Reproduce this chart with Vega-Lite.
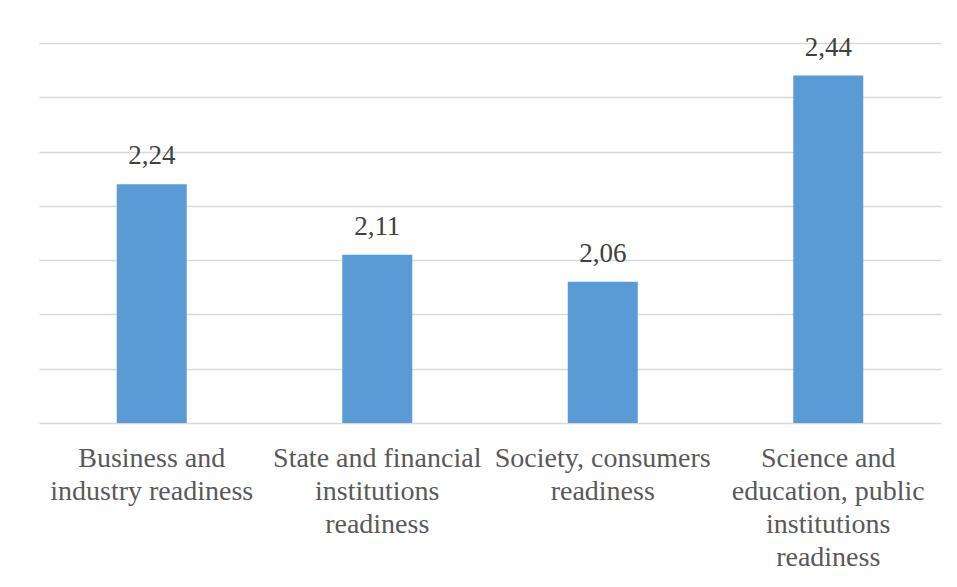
{
  "$schema": "https://vega.github.io/schema/vega-lite/v6.json",
  "autosize": {"type": "none"},
  "width": 902,
  "height": 380,
  "padding": {"left": 39, "top": 43, "right": 16, "bottom": 164},
  "background": "white",
  "config": {
    "view": {"stroke": null},
    "locale": {"number": {"decimal": ",", "thousands": ".", "grouping": [3], "currency": ["", " €"]}},
    "font": "Liberation Serif"
  },
  "data": {
    "values": [
      {"category": "Business and|industry readiness", "value": 2.24},
      {"category": "State and financial|institutions|readiness", "value": 2.11},
      {"category": "Society, consumers|readiness", "value": 2.06},
      {"category": "Science and|education, public|institutions|readiness", "value": 2.44}
    ]
  },
  "encoding": {
    "x": {
      "field": "category",
      "type": "nominal",
      "sort": null,
      "scale": {"paddingInner": 0, "paddingOuter": 0},
      "axis": {
        "title": null,
        "labelAngle": 0,
        "labelExpr": "split(datum.label, '|')",
        "labelFont": "Liberation Serif",
        "labelFontSize": 28,
        "labelColor": "#595959",
        "labelLineHeight": 33,
        "labelPadding": 21,
        "labelBaseline": "top",
        "labelLimit": 400,
        "labelOverlap": false,
        "domain": false,
        "ticks": false
      }
    },
    "y": {
      "field": "value",
      "type": "quantitative",
      "scale": {"domain": [1.8, 2.5], "nice": false, "zero": false},
      "axis": {
        "title": null,
        "labels": false,
        "ticks": false,
        "domain": false,
        "grid": true,
        "gridColor": "#d9d9d9",
        "gridWidth": 1.5,
        "values": [1.8, 1.9, 2.0, 2.1, 2.2, 2.3, 2.4, 2.5]
      }
    }
  },
  "layer": [
    {
      "mark": {"type": "bar", "color": "#5B9BD5", "size": 70},
      "encoding": {"y2": {"datum": 1.8}}
    },
    {
      "mark": {"type": "text", "baseline": "alphabetic", "dy": -20, "font": "Liberation Serif", "fontSize": 27, "color": "#404040"},
      "encoding": {"text": {"field": "value", "type": "quantitative", "format": ".2f"}}
    }
  ]
}
